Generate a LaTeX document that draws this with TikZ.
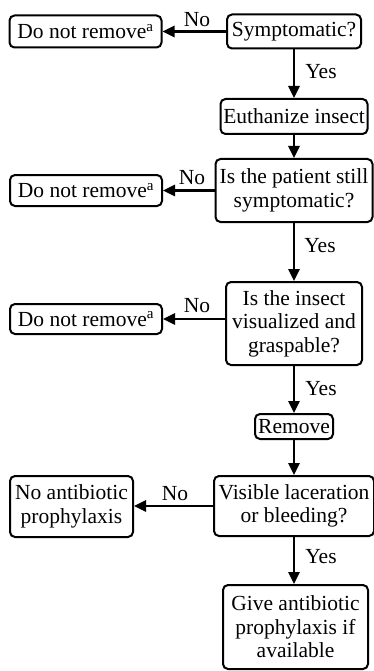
\documentclass[tikz,border=0pt]{standalone}
\usepackage{fontspec}
\setmainfont{Liberation Serif}
\newfontfamily\tnr{Liberation Serif}
\usetikzlibrary{arrows.meta}
\begin{document}
\begin{tikzpicture}[x=1pt,y=-1pt,
  box/.style={draw, line width=2pt, rounded corners=5pt, align=center, inner sep=0pt,
    font=\tnr\fontsize{21.5}{23.5}\selectfont},
  lbl/.style={font=\tnr\fontsize{21.5}{23.5}\selectfont, inner sep=0pt},
  arr/.style={line width=2.6pt, -{Triangle[length=12pt,width=11pt]}}]
\useasboundingbox (0,0) rectangle (374,671);
\node[box, minimum width=134pt, minimum height=34pt] (sym) at (294,31.5) {Symptomatic?};
\node[box, minimum width=152pt, minimum height=32pt] (dnr1) at (85.5,31.5) {Do not remove\textsuperscript{a}};
\node[box, minimum width=147pt, minimum height=35pt] (euth) at (294,116.5) {Euthanize insect};
\node[box, minimum width=157pt, minimum height=63pt] (still) at (294,190.5) {Is the patient still\\symptomatic?};
\node[box, minimum width=152pt, minimum height=31pt] (dnr2) at (86,190.5) {Do not remove\textsuperscript{a}};
\node[box, minimum width=136pt, minimum height=83pt] (vis) at (294,323.5) {Is the insect\\visualized and\\graspable?};
\node[box, minimum width=152pt, minimum height=30pt] (dnr3) at (86,319) {Do not remove\textsuperscript{a}};
\node[box, minimum width=78pt, minimum height=25pt] (rem) at (294,426.5) {Remove};
\node[box, minimum width=160pt, minimum height=60pt] (lac) at (294,506) {Visible laceration\\or bleeding?};
\node[box, minimum width=123pt, minimum height=61pt] (noab) at (71.5,506.5) {No antibiotic\\prophylaxis};
\node[box, minimum width=145pt, minimum height=84pt] (give) at (295.5,627) {Give antibiotic\\prophylaxis if\\available};
\draw[arr] (sym.west) -- (dnr1.east |- sym.west);
\draw[arr] (sym.south) -- (euth.north);
\draw[arr] (euth.south) -- (still.north);
\draw[arr] (still.west) -- (dnr2.east |- still.west);
\draw[arr] (still.south) -- (vis.north);
\draw[arr] (vis.west |- dnr3.east) -- (dnr3.east);
\draw[arr] (vis.south) -- (rem.north);
\draw[arr] (rem.south) -- (lac.north);
\draw[arr] (lac.west) -- (noab.east |- lac.west);
\draw[arr] (lac.south) -- (give.north -| lac.south);
\node[lbl] (no1) at (197,20) {No};
\node[lbl] (no2) at (192,178) {No};
\node[lbl] (no3) at (197,306) {No};
\node[lbl] (no4) at (175,494) {No};
\node[lbl] (y1) at (321,72) {Yes};
\node[lbl] (y2) at (320,246) {Yes};
\node[lbl] (y3) at (321,389) {Yes};
\node[lbl] (y4) at (321,557) {Yes};
\end{tikzpicture}
\end{document}
